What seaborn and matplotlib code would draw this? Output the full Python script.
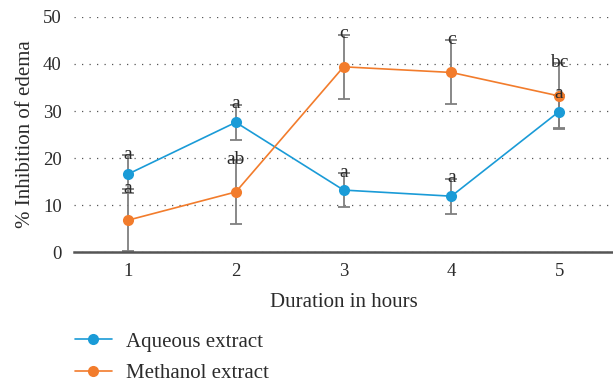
import matplotlib
matplotlib.use("Agg")
import matplotlib.pyplot as plt
import seaborn as sns
import pandas as pd

# --------------------------------------------------------------------------------------------------
# dados

hours = [1, 2, 3, 4, 5]
aqueous = [16.6, 27.6, 13.2, 11.9, 29.9]
aqueous_sd = [4.0, 3.7, 3.6, 3.7, 3.6]
aqueous_letters = ["a", "a", "a", "a", "a"]
methanol = [6.8, 12.8, 39.4, 38.2, 33.2]
methanol_sd = [6.6, 6.8, 6.8, 6.8, 7.0]
methanol_letters = ["a", "ab", "c", "c", "bc"]

BLUE = "#1a9bd7"
ORANGE = "#f27c2c"
TEXT = "#2b2b2b"

df = pd.DataFrame({
    "hours": hours * 2,
    "value": aqueous + methanol,
    "extract": ["Aqueous extract"] * 5 + ["Methanol extract"] * 5,
})

sns.set_style("white")
plt.rcParams["font.family"] = ["Liberation Serif", "DejaVu Serif"]
plt.rcParams["text.color"] = TEXT

fig = plt.figure(figsize=(6.13, 3.85), dpi=100)
ax = fig.add_axes([0.121, 0.345, 0.879, 0.611])

# error bars first so that lines/markers sit on top
for vals, sds in [(aqueous, aqueous_sd), (methanol, methanol_sd)]:
    ax.errorbar(hours, vals, yerr=sds, fmt="none", ecolor="#7f7f7f",
                elinewidth=1.3, capsize=4, capthick=1.3, zorder=2)

sns.lineplot(data=df, x="hours", y="value", hue="extract",
             palette=[BLUE, ORANGE], marker="o", markersize=8,
             markeredgewidth=0, linewidth=1.2, ax=ax, zorder=3)

for vals, sds, letters in [(aqueous, aqueous_sd, aqueous_letters),
                           (methanol, methanol_sd, methanol_letters)]:
    for h, v, s, l in zip(hours, vals, sds, letters):
        ax.text(h, v + s + 0.2, l, ha="center", va="center", fontsize=14, color=TEXT, zorder=4)

ax.set_xlim(0.5, 5.5)
ax.set_ylim(0, 50)
ax.set_xticks(hours)
ax.set_yticks([0, 10, 20, 30, 40, 50])
ax.tick_params(length=0, labelsize=13.5, colors=TEXT)
ax.tick_params(axis="x", pad=8)
ax.tick_params(axis="y", pad=9)
ax.yaxis.grid(True, linestyle=(0, (1, 5)), color="#555555", linewidth=0.9)
ax.set_axisbelow(True)

for side in ["left", "right", "top"]:
    ax.spines[side].set_visible(False)
ax.spines["bottom"].set_color("#555555")
ax.spines["bottom"].set_linewidth(1.8)

ax.set_xlabel("Duration in hours", fontsize=15, color=TEXT, labelpad=9)
ax.set_ylabel("% Inhibition of edema", fontsize=15, color=TEXT, labelpad=6)

handles, labels = ax.get_legend_handles_labels()
ax.get_legend().remove()
fig.legend(handles, labels, loc="lower left", bbox_to_anchor=(0.092, -0.044),
           frameon=False, fontsize=15, handlelength=1.75, labelspacing=0.58,
           handletextpad=0.7)

plt.savefig("out.png", dpi=100)
plt.close()
